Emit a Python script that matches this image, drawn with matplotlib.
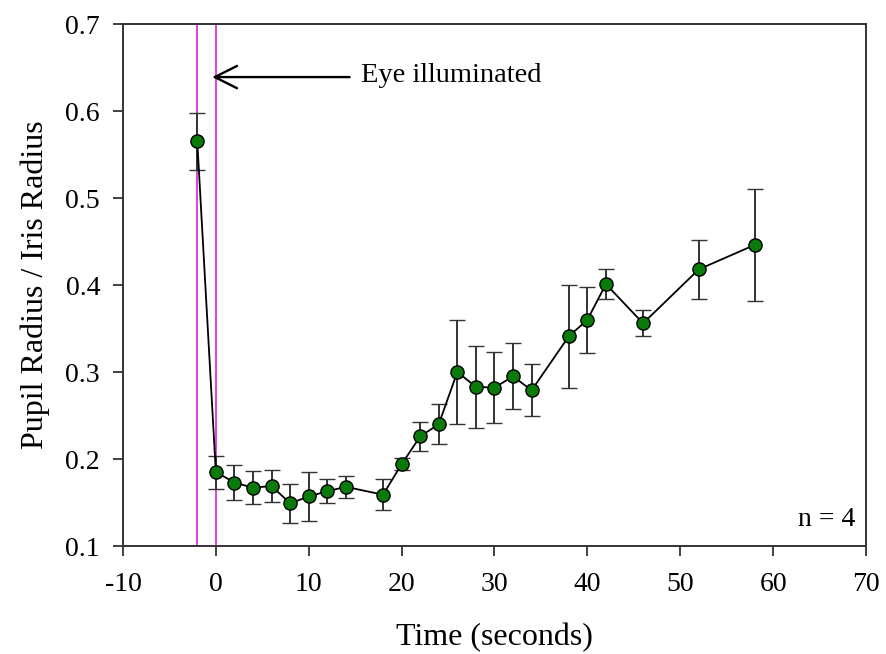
import matplotlib
matplotlib.use("Agg")
import matplotlib.pyplot as plt

time_s = [-2, 0, 2, 4, 6, 8, 10, 12, 14, 18, 20, 22, 24, 26, 28, 30, 32, 34, 38, 40, 42, 46, 52, 58]
ratio = [0.565, 0.185, 0.173, 0.167, 0.169, 0.149, 0.157, 0.163, 0.168, 0.159, 0.194, 0.226,
         0.240, 0.300, 0.283, 0.282, 0.295, 0.279, 0.341, 0.360, 0.401, 0.356, 0.418, 0.446]
err = [0.033, 0.019, 0.020, 0.019, 0.018, 0.022, 0.028, 0.014, 0.013, 0.018, 0.007, 0.017,
       0.023, 0.060, 0.047, 0.041, 0.038, 0.030, 0.059, 0.038, 0.017, 0.015, 0.034, 0.064]
illum_lines = [-2, 0]
x_ticks = [-10, 0, 10, 20, 30, 40, 50, 60, 70]
y_ticks = [0.1, 0.2, 0.3, 0.4, 0.5, 0.6, 0.7]

plt.rcParams['font.family'] = ['Liberation Serif', 'DejaVu Serif']

fig = plt.figure(figsize=(8.86, 6.54), dpi=100)
ax = fig.add_axes([0.1388, 0.1651, 0.8386, 0.7982])

for xv in illum_lines:
    ax.axvline(xv, color='#dd44dd', lw=1.4, zorder=1)

ax.errorbar(time_s, ratio, yerr=err, fmt='-o', color='black', lw=1.3,
            ecolor='#333333', elinewidth=1.4, capsize=5.8, capthick=1.4,
            markerfacecolor='#0a7a0a', markeredgecolor='black', markeredgewidth=1.0,
            markersize=9.5, zorder=3)

ax.annotate('', xy=(-0.7, 0.639), xytext=(14.7, 0.639),
            arrowprops=dict(arrowstyle='->,head_length=1.6,head_width=0.8', color='black', lw=1.7))
ax.text(15.6, 0.641, 'Eye illuminated', fontsize=20.5, ha='left', va='center')
ax.text(68.8, 0.130, 'n = 4', fontsize=20, ha='right', va='center')

ax.set_xlim(-10, 70)
ax.set_ylim(0.1, 0.7)
ax.set_xticks(x_ticks)
ax.set_xticklabels([str(v) for v in x_ticks])
ax.set_yticks(y_ticks)
ax.set_yticklabels([f"{v:.1f}" for v in y_ticks])
ax.tick_params(direction='out', length=7.5, width=1.3, labelsize=20, color='#333333')
ax.tick_params(axis='x', pad=11)
ax.tick_params(axis='y', pad=9)
for s in ax.spines.values():
    s.set_color('#333333')
    s.set_linewidth(1.4)

ax.set_xlabel('Time (seconds)', fontsize=23, labelpad=19)
ax.set_ylabel('Pupil Radius / Iris Radius', fontsize=23, labelpad=11)

fig.savefig('out.png', dpi=100)
